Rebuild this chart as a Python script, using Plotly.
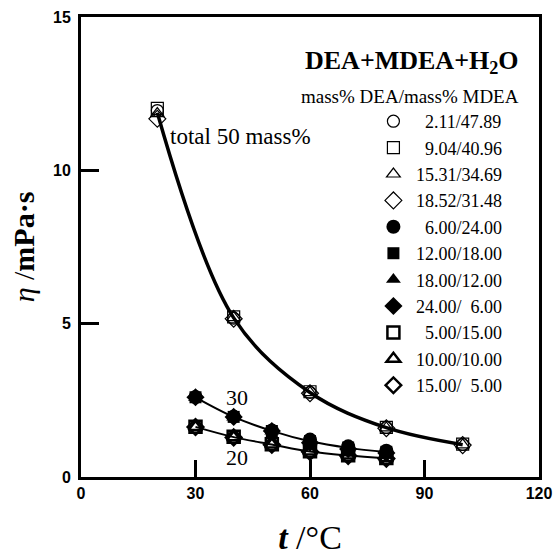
import plotly.graph_objects as go
import numpy as np

# ---------------- data ----------------
t50 = [20, 40, 60, 80, 100]
t30 = [30, 40, 50, 60, 70, 80]

# total 50 mass% (open thin symbols)
eta_211_4789 = [11.95, 5.18, 2.76, 1.62, 1.06]
eta_904_4096 = [12.02, 5.22, 2.78, 1.62, 1.07]
eta_1531_3469 = [11.85, 5.20, 2.75, 1.60, 1.05]
eta_1852_3148 = [11.68, 5.16, 2.73, 1.59, 1.04]

# total 30 mass% (filled symbols)
eta_600_2400 = [2.61, 1.97, 1.52, 1.22, 1.00, 0.86]
eta_1200_1800 = [2.60, 1.96, 1.50, 1.17, 0.96, 0.82]
eta_1800_1200 = [2.59, 1.95, 1.49, 1.14, 0.93, 0.80]
eta_2400_600 = [2.60, 1.96, 1.50, 1.12, 0.91, 0.78]

# total 20 mass% (open bold symbols)
eta_500_1500 = [1.64, 1.31, 1.07, 0.84, 0.71, 0.62]
eta_1000_1000 = [1.63, 1.30, 1.06, 0.83, 0.70, 0.61]
eta_1500_500 = [1.63, 1.29, 1.05, 0.82, 0.69, 0.60]

x_ticks = [0, 30, 60, 90, 120]
y_ticks = [0, 5, 10, 15]

FS = "\u2007"
series = [
    (FS + "2.11/47.89", t50, eta_211_4789, "circle-open", 12, 1.2),
    (FS + "9.04/40.96", t50, eta_904_4096, "square-open", 12, 1.2),
    ("15.31/34.69", t50, eta_1531_3469, "triangle-up-open", 12, 1.2),
    ("18.52/31.48", t50, eta_1852_3148, "diamond-open", 13, 1.2),
    (FS + "6.00/24.00", t30, eta_600_2400, "circle", 14, 0),
    ("12.00/18.00", t30, eta_1200_1800, "square", 12, 0),
    ("18.00/12.00", t30, eta_1800_1200, "triangle-up", 13, 0),
    ("24.00/" + FS + "6.00", t30, eta_2400_600, "diamond", 14, 0),
    (FS + "5.00/15.00", t30, eta_500_1500, "square-open", 12, 2.5),
    ("10.00/10.00", t30, eta_1000_1000, "triangle-up-open", 12, 2.5),
    ("15.00/" + FS + "5.00", t30, eta_1500_500, "diamond-open", 12, 2.5),
]

fig = go.Figure()
for name, tx, ty, sym, sz, lw in series:
    fig.add_trace(go.Scatter(
        x=tx, y=ty, mode="markers", name=name,
        marker=dict(symbol=sym, size=sz, color="black",
                    line=dict(color="black", width=lw)),
    ))

# fitted curves (through group means)
mean50 = np.mean([eta_211_4789, eta_904_4096, eta_1531_3469, eta_1852_3148], axis=0)
mean30 = np.mean([eta_600_2400, eta_1200_1800, eta_1800_1200, eta_2400_600], axis=0)
mean20 = np.mean([eta_500_1500, eta_1000_1000, eta_1500_500], axis=0)
for tx, ty, w in [(t50, mean50, 3.5), (t30, mean30, 2), (t30, mean20, 2)]:
    fig.add_trace(go.Scatter(x=tx, y=ty, mode="lines", showlegend=False,
                             line=dict(color="black", width=w, shape="spline", smoothing=1.0),
                             hoverinfo="skip"))

serif = "Liberation Serif, Times New Roman, serif"
fig.update_layout(
    width=553, height=556,
    margin=dict(l=81, r=14, t=17, b=79),
    paper_bgcolor="white", plot_bgcolor="white",
    showlegend=True,
    legend=dict(x=0.633, y=0.813, xanchor="left", yanchor="top",
                bgcolor="rgba(0,0,0,0)", font=dict(family=serif, size=18, color="black"),
                tracegroupgap=0, itemsizing="trace", itemwidth=35),
    annotations=[
        dict(text="<b>DEA+MDEA+H<sub>2</sub>O</b>", xref="paper", yref="paper",
             x=0.961, y=0.902, xanchor="right", yanchor="middle", showarrow=False,
             font=dict(family=serif, size=26, color="black")),
        dict(text="mass% DEA/mass% MDEA", xref="paper", yref="paper",
             x=0.961, y=0.828, xanchor="right", yanchor="middle", showarrow=False,
             font=dict(family=serif, size=19, color="black")),
        dict(text="total 50 mass%", x=22.8, y=11.09, xanchor="left", yanchor="middle",
             showarrow=False, font=dict(family=serif, size=23, color="black")),
        dict(text="30", x=40.9, y=2.58, xanchor="center", yanchor="middle",
             showarrow=False, font=dict(family=serif, size=22, color="black")),
        dict(text="20", x=40.9, y=0.62, xanchor="center", yanchor="middle",
             showarrow=False, font=dict(family=serif, size=22, color="black")),
    ],
)
fig.update_xaxes(range=[0, 120], tickvals=x_ticks, ticktext=[str(v) for v in x_ticks],
                 automargin=False,
                 showgrid=False, zeroline=False, showline=True, linecolor="black", linewidth=3,
                 mirror=True, ticks="inside", ticklen=17, tickwidth=3, tickcolor="black",
                 tickfont=dict(family="Liberation Sans, Arial", size=16, color="black", weight="bold"),
                 title=dict(text="<b><i>t</i></b> /°C", font=dict(family=serif, size=34, color="black"),
                            standoff=30))
fig.update_yaxes(range=[0, 15], tickvals=y_ticks, ticktext=[str(v) for v in y_ticks],
                 automargin=False, ticklabelstandoff=4,
                 showgrid=False, zeroline=False, showline=True, linecolor="black", linewidth=3,
                 mirror=True, ticks="inside", ticklen=18, tickwidth=3, tickcolor="black",
                 tickfont=dict(family="Liberation Sans, Arial", size=16, color="black", weight="bold"),
                 title=dict(text="<i>η</i> /<b>mPa·s</b>", font=dict(family=serif, size=30, color="black"),
                            standoff=10))

fig.write_html("out.html")
